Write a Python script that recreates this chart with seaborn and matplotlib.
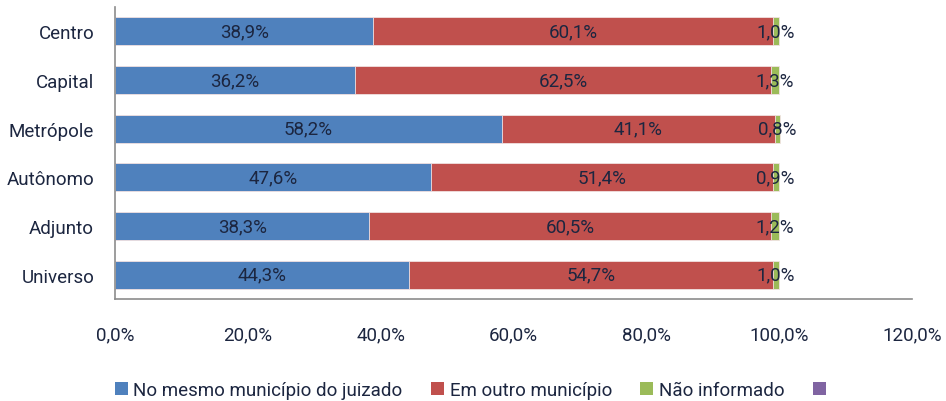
import matplotlib
matplotlib.use("Agg")
import matplotlib.pyplot as plt
from matplotlib.patches import Patch
from matplotlib import font_manager
import seaborn as sns
import pandas as pd

categorias = ["Centro", "Capital", "Metrópole", "Autônomo", "Adjunto", "Universo"]
mesmo_municipio = [38.9, 36.2, 58.2, 47.6, 38.3, 44.3]
outro_municipio = [60.1, 62.5, 41.1, 51.4, 60.5, 54.7]
nao_informado = [1.0, 1.3, 0.8, 0.9, 1.2, 1.0]
series_nomes = ["No mesmo município do juizado", "Em outro município", "Não informado", ""]
ticks = [0, 20, 40, 60, 80, 100, 120]

cores = ["#4F81BD", "#C0504D", "#9BBB59", "#8064A2"]
texto = "#1c2640"

sns.set_theme(style="white")
nomes = {f.name for f in font_manager.fontManager.ttflist}
familia = [f for f in ["Liberation Sans Narrow", "DejaVu Sans Condensed", "Roboto", "DejaVu Sans"] if f in nomes]
plt.rcParams["font.family"] = familia

df = pd.DataFrame({
    "categoria": categorias,
    "a": mesmo_municipio,
    "b": outro_municipio,
    "c": nao_informado,
})
df["ab"] = df["a"] + df["b"]
df["abc"] = df["ab"] + df["c"]

fig = plt.figure(figsize=(9.46, 4.02), dpi=100)
ax = fig.add_axes([115 / 946, 1 - 300 / 402, (912 - 115) / 946, (300 - 8) / 402])

largura = 0.58
for col, cor in [("abc", cores[2]), ("ab", cores[1]), ("a", cores[0])]:
    sns.barplot(data=df, x=col, y="categoria", color=cor, orient="h",
                width=largura, ax=ax, saturation=1, edgecolor="#f2e4e4", linewidth=0.6)

def fmt(v):
    return f"{v:.1f}".replace(".", ",") + "%"

fs = 13.5
for i in range(len(categorias)):
    a, b, c = mesmo_municipio[i], outro_municipio[i], nao_informado[i]
    ax.text(a / 2, i, fmt(a), ha="center", va="center", fontsize=fs, color=texto)
    ax.text(a + b / 2, i, fmt(b), ha="center", va="center", fontsize=fs, color=texto)
    ax.text(a + b + c / 2, i, fmt(c), ha="center", va="center", fontsize=fs, color=texto)

ax.set_xlim(0, 120)
ax.set_ylim(len(categorias) - 0.5, -0.5)
ax.set_xticks(ticks)
ax.set_xticklabels([fmt(t) for t in ticks], fontsize=fs, color=texto)
ax.tick_params(axis="x", length=0, pad=19)
ax.tick_params(axis="y", length=0, pad=15, labelsize=fs, labelcolor=texto)
ax.set_xlabel("")
ax.set_ylabel("")
for s in ["top", "right"]:
    ax.spines[s].set_visible(False)
for s in ["left", "bottom"]:
    ax.spines[s].set_color("#8c8c8c")
    ax.spines[s].set_linewidth(1.2)

handles = [Patch(facecolor=c, edgecolor="none") for c in cores]
fig.legend(handles, series_nomes, loc="center", bbox_to_anchor=(0.5, 1 - 391 / 402),
           ncol=4, frameon=False, fontsize=fs, handlelength=0.7, handleheight=0.7,
           handletextpad=0.3, columnspacing=1.5, labelcolor=texto)

fig.savefig("out.png", dpi=100)
